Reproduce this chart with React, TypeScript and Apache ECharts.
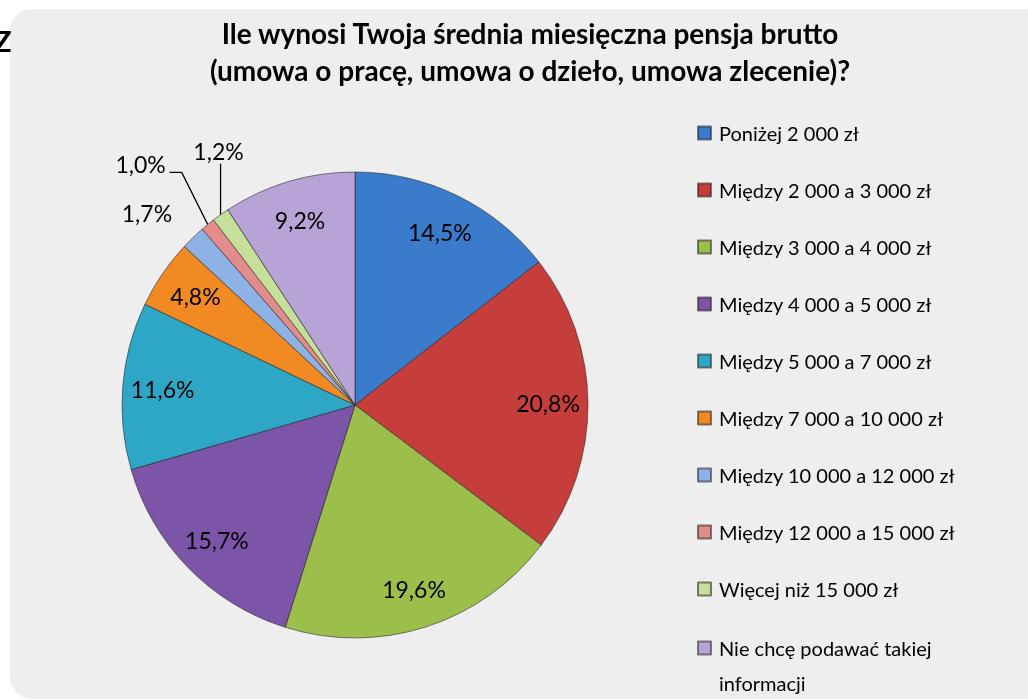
import React, { useEffect, useRef } from "react";
import * as echarts from "echarts";

const categories = [
  "Poniżej 2 000 zł",
  "Między 2 000 a 3 000 zł",
  "Między 3 000 a 4 000 zł",
  "Między 4 000 a 5 000 zł",
  "Między 5 000 a 7 000 zł",
  "Między 7 000 a 10 000 zł",
  "Między 10 000 a 12 000 zł",
  "Między 12 000 a 15 000 zł",
  "Więcej niż 15 000 zł",
  "Nie chcę podawać takiej informacji",
];
const values = [14.5, 20.8, 19.6, 15.7, 11.6, 4.8, 1.7, 1.0, 1.2, 9.2];
const colors = [
  "#3B7BCB",
  "#C63E3B",
  "#9CBF4B",
  "#7D55A8",
  "#2EA7C7",
  "#F28A24",
  "#8EB2E6",
  "#E38C8C",
  "#C6E09B",
  "#B7A3D6",
];
const titleLines = [
  "Ile wynosi Twoja średnia miesięczna pensja brutto",
  "(umowa o pracę, umowa o dzieło, umowa zlecenie)?",
];

const FONT = "Lato, 'Open Sans', sans-serif";

export default function App() {
  const ref = useRef<HTMLDivElement>(null);
  useEffect(() => {
    if (!ref.current) return;
    const chart = echarts.init(ref.current, undefined, { renderer: "svg" });
    const fmt = (v: number) => v.toFixed(1).replace(".", ",") + "%";
    const mainData = categories.map((name, i) => ({
      name,
      value: values[i],
      itemStyle: { color: colors[i] },
    }));
    const labelData = categories.map((name, i) => {
      const small = i >= 6 && i <= 8;
      return {
        name,
        value: values[i],
        label: small
          ? { position: "outside", show: true }
          : { position: "inside", show: true },
        labelLine: small
          ? { show: i !== 6, length: 20, length2: 10, lineStyle: { color: "#000", width: 1.3 } }
          : { show: false },
      };
    });
    const legendBase = {
      orient: "vertical",
      left: 697,
      padding: 0,
      icon: "rect",
      itemWidth: 13,
      itemHeight: 13,
      itemGap: 33,
      selectedMode: false,
      textStyle: {
        fontFamily: FONT,
        fontSize: 20,
        color: "#000",
        lineHeight: 24,
        padding: [0, 0, 0, 3],
      },
    };
    chart.setOption({
      animation: false,
      backgroundColor: "transparent",
      graphic: [
        {
          type: "rect",
          shape: { x: 10, y: 9, width: 1040, height: 690, r: 22 },
          style: { fill: "#EEEEEE" },
          z: -10,
        },
        {
          type: "text",
          x: -6,
          y: 26,
          style: { text: "Z", fontSize: 29, fontWeight: "bold", fontFamily: FONT, fill: "#000" },
        },
        {
          type: "text",
          x: 530,
          y: 14,
          style: {
            text: titleLines.join("\n"),
            font: `bold 28px ${FONT}`,
            fill: "#000",
            align: "center",
            lineHeight: 37,
          },
        },
      ],
      legend: [
        {
          ...legendBase,
          top: 121,
          height: 560,
          data: categories.slice(0, 9),
        },
        {
          ...legendBase,
          top: 595.5,
          height: 200,
          data: categories.slice(9),
          formatter: () => " \nNie chcę podawać takiej\ninformacji",
          textStyle: { ...legendBase.textStyle, lineHeight: 35 },
        },
      ],
      series: [
        {
          type: "pie",
          center: [355, 405],
          radius: 233,
          startAngle: 90,
          clockwise: true,
          silent: true,
          label: { show: false },
          labelLine: { show: false },
          itemStyle: { borderColor: "rgba(30,30,30,0.55)", borderWidth: 1 },
          data: mainData,
        },
        {
          type: "pie",
          center: [355, 405],
          radius: [147, 233],
          startAngle: 90,
          clockwise: true,
          silent: true,
          avoidLabelOverlap: false,
          itemStyle: { color: "transparent", borderWidth: 0 },
          label: {
            fontFamily: FONT,
            fontSize: 23,
            color: "#000",
            formatter: (p: any) => fmt(p.value),
          },
          labelLayout: (p: any) => {
            const pts = p.labelLinePoints;
            if (!pts) return {};
            const p0 = pts[0];
            if (p.dataIndex === 6) {
              return { dx: 8, dy: -10 };
            }
            if (p.dataIndex === 7) {
              return {
                x: p0[0] - 42,
                y: p0[1] - 60,
                align: "right",
                verticalAlign: "middle",
                labelLinePoints: [
                  [p0[0], p0[1]],
                  [p0[0] - 26, p0[1] - 52],
                  [p0[0] - 38, p0[1] - 52],
                ],
              };
            }
            if (p.dataIndex === 8) {
              return {
                x: p0[0] - 2,
                y: p0[1] - 64,
                align: "center",
                verticalAlign: "middle",
                labelLinePoints: [
                  [p0[0], p0[1]],
                  [p0[0], p0[1] - 51],
                ],
              };
            }
            return {};
          },
          data: labelData,
        },
      ],
    });
    return () => chart.dispose();
  }, []);
  return (
    <div
      ref={ref}
      style={{ position: "fixed", left: 0, top: 0, width: 1028, height: 700 }}
    />
  );
}
